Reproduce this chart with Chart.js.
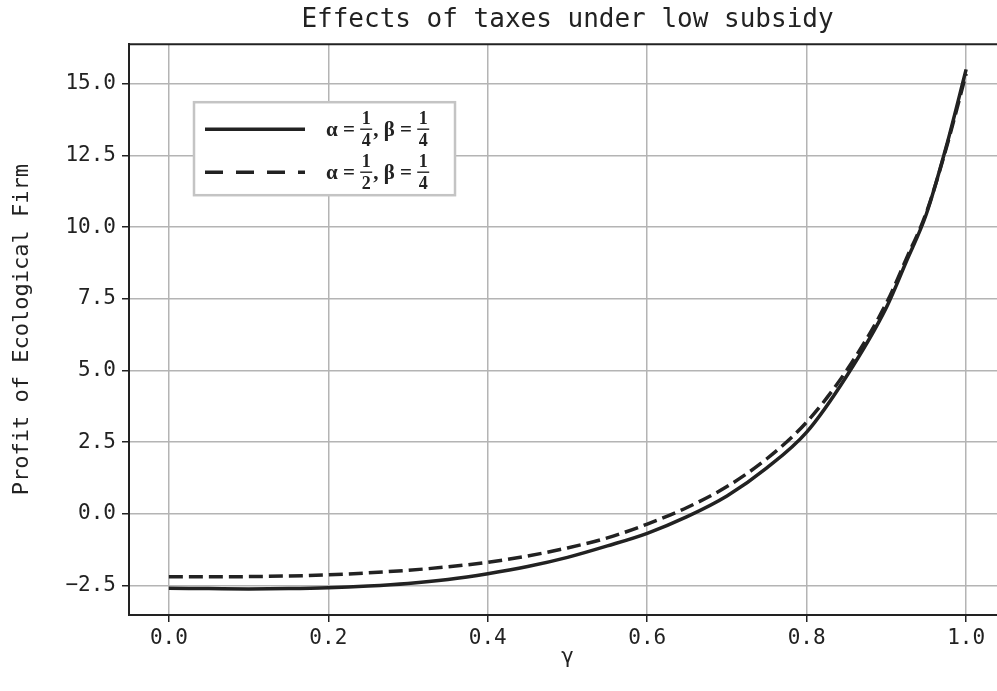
<!DOCTYPE html>
<html>
<head>
<meta charset="utf-8">
<script src="https://cdn.jsdelivr.net/npm/chart.js@4.4.1/dist/chart.umd.min.js"></script>
<style>
  html, body { margin: 0; padding: 0; background: #fff; }
  #wrap { width: 997px; height: 691px; overflow: hidden; position: relative; }
  canvas { display: block; }
</style>
</head>
<body>
<div id="wrap"><canvas id="chart" width="1040" height="691"></canvas></div>
<script>
// gamma values along the x axis
const gammaValues = [0, 0.05, 0.1, 0.15, 0.2, 0.25, 0.3, 0.35, 0.4, 0.45, 0.5, 0.55,
  0.6, 0.65, 0.7, 0.75, 0.8, 0.85, 0.9, 0.925, 0.95, 0.975, 1.0];

// alpha = 1/4, beta = 1/4 (solid)
const profitA = [-2.60, -2.61, -2.62, -2.61, -2.58, -2.52, -2.43, -2.29, -2.09, -1.84, -1.52, -1.12,
  -0.68, -0.10, 0.62, 1.60, 2.85, 4.80, 7.20, 8.80, 10.45, 12.80, 15.50];

// alpha = 1/2, beta = 1/4 (dashed)
const profitB = [-2.20, -2.20, -2.19, -2.17, -2.13, -2.06, -1.97, -1.85, -1.69, -1.47, -1.19, -0.84,
  -0.36, 0.22, 0.95, 1.92, 3.20, 5.00, 7.35, 8.90, 10.50, 12.75, 15.35];

const legendRows = [
  { a: ["1", "4"], b: ["1", "4"], dash: [] },
  { a: ["1", "2"], b: ["1", "4"], dash: [18, 13] },
];

const monoFont = "'DejaVu Sans Mono', monospace";
const ink = "#222";

function toPoints(ys) {
  return gammaValues.map((g, i) => ({ x: g, y: ys[i] }));
}

// draws the top spine and the fraction legend
const framePlugin = {
  id: "frame",
  afterDraw(chart) {
    const { ctx, chartArea: ca } = chart;
    ctx.save();
    ctx.strokeStyle = ink;
    ctx.lineWidth = 2;
    ctx.beginPath();
    ctx.moveTo(ca.left, ca.top);
    ctx.lineTo(ca.right, ca.top);
    ctx.stroke();

    const bx = ca.left + 65, by = ca.top + 58, bw = 261, bh = 93;
    ctx.fillStyle = "#fff";
    ctx.fillRect(bx, by, bw, bh);
    ctx.strokeStyle = "#c4c4c4";
    ctx.lineWidth = 2.5;
    ctx.strokeRect(bx, by, bw, bh);

    legendRows.forEach((row, i) => {
      const yc = by + 27 + i * 43;
      ctx.strokeStyle = ink;
      ctx.lineWidth = 3.5;
      ctx.setLineDash(row.dash);
      ctx.beginPath();
      ctx.moveTo(bx + 11, yc);
      ctx.lineTo(bx + 111, yc);
      ctx.stroke();
      ctx.setLineDash([]);

      ctx.fillStyle = ink;
      ctx.textBaseline = "middle";
      ctx.textAlign = "left";
      let x = bx + 132;
      const sym = "bold 21px 'Liberation Serif', serif";
      const put = (t) => { ctx.font = sym; ctx.fillText(t, x, yc + 1); x += ctx.measureText(t).width; };
      const frac = (nd) => {
        ctx.font = "bold 18px 'Liberation Serif', serif";
        const w = Math.max(ctx.measureText(nd[0]).width, ctx.measureText(nd[1]).width) + 3;
        ctx.textAlign = "center";
        ctx.fillText(nd[0], x + w / 2, yc - 10);
        ctx.fillText(nd[1], x + w / 2, yc + 12);
        ctx.textAlign = "left";
        ctx.lineWidth = 1.4;
        ctx.beginPath();
        ctx.moveTo(x, yc);
        ctx.lineTo(x + w, yc);
        ctx.stroke();
        x += w + 1;
      };
      put("α = ");
      frac(row.a);
      put(", β = ");
      frac(row.b);
    });
    ctx.restore();
  },
};

new Chart(document.getElementById("chart"), {
  type: "line",
  data: {
    datasets: [
      {
        label: "α=1/4, β=1/4",
        data: toPoints(profitA),
        borderColor: ink,
        borderWidth: 3.5,
        pointRadius: 0,
        cubicInterpolationMode: "monotone",
      },
      {
        label: "α=1/2, β=1/4",
        data: toPoints(profitB),
        borderColor: ink,
        borderWidth: 3.5,
        borderDash: [14, 6],
        pointRadius: 0,
        cubicInterpolationMode: "monotone",
      },
    ],
  },
  options: {
    responsive: false,
    animation: false,
    layout: { padding: { left: 0, right: 34, top: 0, bottom: 0 } },
    plugins: {
      legend: { display: false },
      tooltip: { enabled: false },
      title: {
        display: true,
        fullSize: false,
        text: "Effects of taxes under low subsidy",
        color: ink,
        font: { family: monoFont, size: 26, weight: "normal" },
        padding: { top: 5, bottom: 8 },
      },
    },
    scales: {
      x: {
        type: "linear",
        min: -0.05,
        max: 1.05,
        afterFit: (s) => { s.height = 76; },
        ticks: {
          stepSize: 0.2,
          includeBounds: false,
          color: ink,
          font: { family: monoFont, size: 21 },
          padding: 4,
          maxRotation: 0,
          callback: (v) => v.toFixed(1),
        },
        grid: { color: "#b4b4b4", lineWidth: 1.5, tickColor: ink, tickLength: 7, tickWidth: 1.5 },
        border: { color: ink, width: 2 },
        title: {
          display: true,
          text: "γ",
          color: ink,
          font: { family: monoFont, size: 21 },
          padding: { top: 0, bottom: 21 },
        },
      },
      y: {
        type: "linear",
        min: -3.53,
        max: 16.38,
        afterFit: (s) => { s.width = 129; },
        ticks: {
          stepSize: 2.5,
          includeBounds: false,
          color: ink,
          font: { family: monoFont, size: 21 },
          padding: 6,
          callback: (v) => (v < 0 ? "\u2212" + Math.abs(v).toFixed(1) : v.toFixed(1)),
        },
        grid: { color: "#b4b4b4", lineWidth: 1.5, tickColor: ink, tickLength: 7, tickWidth: 1.5 },
        border: { color: ink, width: 2 },
        title: {
          display: true,
          text: "Profit of Ecological Firm",
          color: ink,
          font: { family: monoFont, size: 22 },
          padding: { top: 9, bottom: 0 },
        },
      },
    },
  },
  plugins: [framePlugin],
});
</script>
</body>
</html>
